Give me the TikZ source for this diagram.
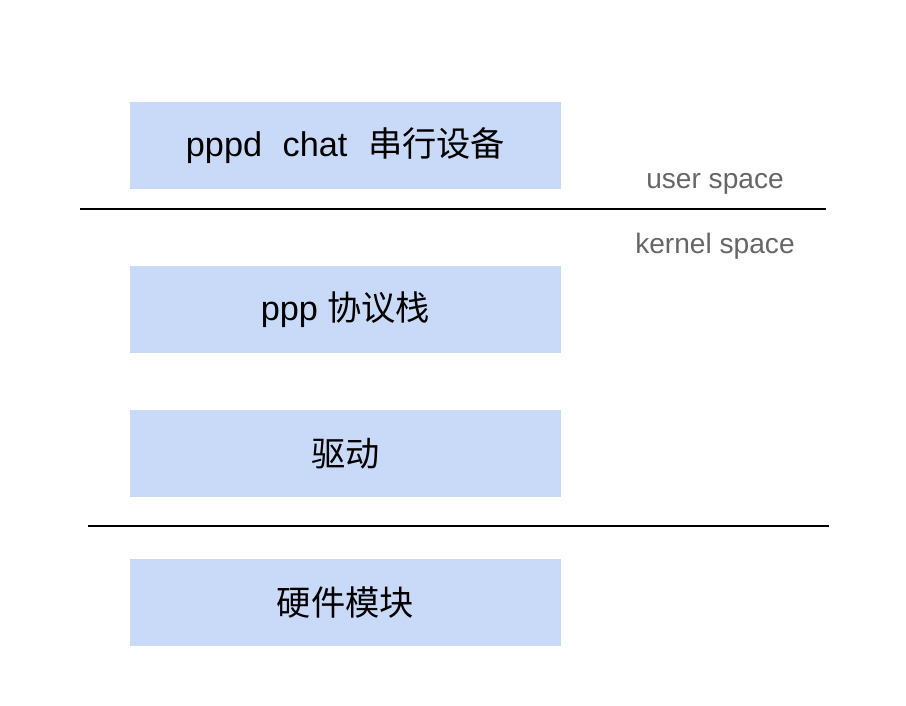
\documentclass[tikz,border=0pt]{standalone}
\usepackage{fontspec}
\setmainfont{Liberation Sans}
\newfontfamily\cjk{Noto Sans CJK SC}
\usetikzlibrary{positioning}
\definecolor{layerblue}{HTML}{C9DAF8}
\definecolor{spacegray}{HTML}{666666}
\tikzset{
    %Define style for layer boxes
    layer/.style={
           rectangle,
           fill=layerblue,
           minimum width=8.62cm,
           minimum height=1.74cm,
           font=\fontsize{19.5}{23}\selectfont,
           text centered},
    % Define style for space labels
    spacelabel/.style={
           text=spacegray,
           font=\fontsize{16}{19}\selectfont},
    % Define boundary line style
    boundary/.style={
           line width=0.8pt}
}
\begin{document}
\begin{tikzpicture}[node distance=1cm, x=0.02cm, y=-0.02cm]
 \useasboundingbox (0,0) rectangle (906,706);
 %nodes
    \node[layer] (user) at (345.5,145.5) {pppd\hspace{0.6em}chat\hspace{0.6em}{\cjk 串行设备}};
    \node[layer, below=1.52cm of user] (ppp) {ppp {\cjk 协议栈}};
    \node[layer, below=1.14cm of ppp] (driver) {{\cjk 驱动}};
    \node[layer, below=1.22cm of driver] (hw) {{\cjk 硬件模块}};
    \node[spacelabel] (userspace) at (715,184) {user space};
    \node[spacelabel] (kernelspace) at (715,246) {kernel space};
 %boundaries
    \coordinate (ukleft) at (80,209);
    \coordinate (ukright) at (826,209);
    \coordinate (hwleft) at (88,526);
    \coordinate (hwright) at (829,526);
    \draw[boundary] (ukleft) -- (ukright);
    \draw[boundary] (hwleft) -- (hwright);
\end{tikzpicture}
\end{document}
